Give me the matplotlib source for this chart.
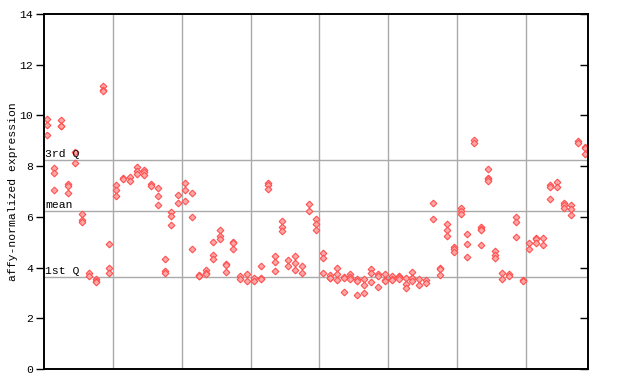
import matplotlib
matplotlib.use("Agg")
import matplotlib.pyplot as plt

# replicate values per sample (slots 0..78), split in groups of ten samples
group1 = [[9.86, 9.62, 9.23], [7.91, 7.73, 7.06], [9.82, 9.60, 9.58], [7.30, 7.22, 6.94],
          [8.55, 8.14], [6.10, 5.88, 5.78], [3.78, 3.68], [3.55, 3.48, 3.45],
          [11.15, 11.00, 10.97], [4.92, 3.98, 3.77]]
group2 = [[7.25, 7.05, 6.82], [7.55, 7.50], [7.57, 7.43], [7.95, 7.82, 7.69],
          [7.85, 7.75, 7.64], [7.28, 7.22], [7.12, 6.81, 6.45], [4.32, 3.85, 3.77],
          [6.19, 6.02, 5.67], [6.85, 6.53]]
group3 = [[7.32, 7.05, 6.61], [6.93, 5.98, 4.72], [3.72, 3.67, 3.65], [3.90, 3.78, 3.74],
          [5.01, 4.50, 4.35], [5.47, 5.24, 5.14], [4.15, 4.11, 3.81], [5.00, 4.96, 4.72],
          [3.65, 3.54], [3.73, 3.46]]
group4 = [[3.58, 3.46], [4.05, 3.58, 3.54], [7.35, 7.26, 7.09], [4.44, 4.21, 3.85],
          [5.82, 5.59, 5.43], [4.29, 4.05], [4.44, 4.17, 3.89], [4.05, 3.77],
          [6.49, 6.22], [5.90, 5.71, 5.47]]
group5 = [[4.57, 4.36, 3.77], [3.70, 3.60, 3.57], [3.97, 3.73, 3.51], [3.64, 3.60, 3.05],
          [3.75, 3.63, 3.54], [3.53, 3.49, 2.91], [3.54, 3.30, 2.98], [3.93, 3.77, 3.42],
          [3.73, 3.67, 3.22], [3.73, 3.52, 3.48]]
group6 = [[3.67, 3.54, 3.50], [3.66, 3.62, 3.56], [3.59, 3.35, 3.18], [3.82, 3.60, 3.57, 3.48],
          [3.55, 3.32], [3.51, 3.40], [6.53, 5.90], [3.98, 3.94, 3.72],
          [5.71, 5.47, 5.23], [4.82, 4.72, 4.61]]
group7 = [[6.36, 6.24, 6.10], [5.31, 4.92, 4.42], [9.02, 8.92], [5.60, 5.52, 5.49, 4.88],
          [7.87, 7.54, 7.50, 7.43], [4.64, 4.48, 4.38], [3.77, 3.56], [3.73, 3.65],
          [5.98, 5.78, 5.19], [3.52, 3.48]]
group8 = [[4.96, 4.72], [5.16, 5.12, 4.96], [5.15, 4.88], [7.24, 7.16, 6.69],
          [7.36, 7.16], [6.56, 6.45, 6.36], [6.45, 6.30, 6.06], [8.99, 8.92],
          [8.75, 8.71, 8.49]]

q3_value = 8.24
mean_value = 6.22
q1_value = 3.62
y_ticks = [0, 2, 4, 6, 8, 10, 12, 14]
y_label = "affy-normalized expression"

samples = group1 + group2 + group3 + group4 + group5 + group6 + group7 + group8
n = len(samples)

plt.rcParams['font.family'] = ['Liberation Mono', 'DejaVu Sans Mono']
fig = plt.figure(figsize=(6.4, 3.84), dpi=100)
ax = fig.add_axes([44 / 640, 15 / 384, 544 / 640, 355 / 384])

xs, ys = [], []
for i, vals in enumerate(samples):
    for v in vals:
        xs.append(i + 0.5)
        ys.append(v)

grid_c = '#aaaaaa'
for gx in range(10, n, 10):
    ax.axvline(gx, color=grid_c, lw=1.0, zorder=1)
for hv in (q3_value, mean_value, q1_value):
    ax.axhline(hv, color=grid_c, lw=1.0, zorder=1)

ax.plot(xs, ys, linestyle='none', marker='D', ms=3.4, mew=0.8,
        mfc='#ffa8a8', mec='#ff5050', zorder=3)

ax.set_xlim(0, n)
ax.set_ylim(0, 14)
ax.set_xticks([])
ax.set_yticks(y_ticks)
ax.set_yticklabels([str(t) for t in y_ticks], fontsize=8.2)
ax.tick_params(axis='y', direction='out', length=6, width=1, pad=2, left=True)

ax2 = ax.twinx()
ax2.set_ylim(0, 14)
ax2.set_yticks(y_ticks)
ax2.set_yticklabels([])
ax2.tick_params(axis='y', direction='in', length=6, width=1)
ax2.set_xticks([])

for a in (ax, ax2):
    for s in a.spines.values():
        s.set_linewidth(1.2)
        s.set_color('black')

for val, lab in ((q3_value, '3rd Q'), (mean_value, 'mean'), (q1_value, '1st Q')):
    ax.text(0.15, val + 0.05, lab, fontsize=8.2, ha='left', va='bottom', zorder=4)

ax.set_ylabel(y_label, fontsize=8.2)
ax.yaxis.set_label_coords(-0.048, 0.5)

fig.savefig('out.png', dpi=100)
